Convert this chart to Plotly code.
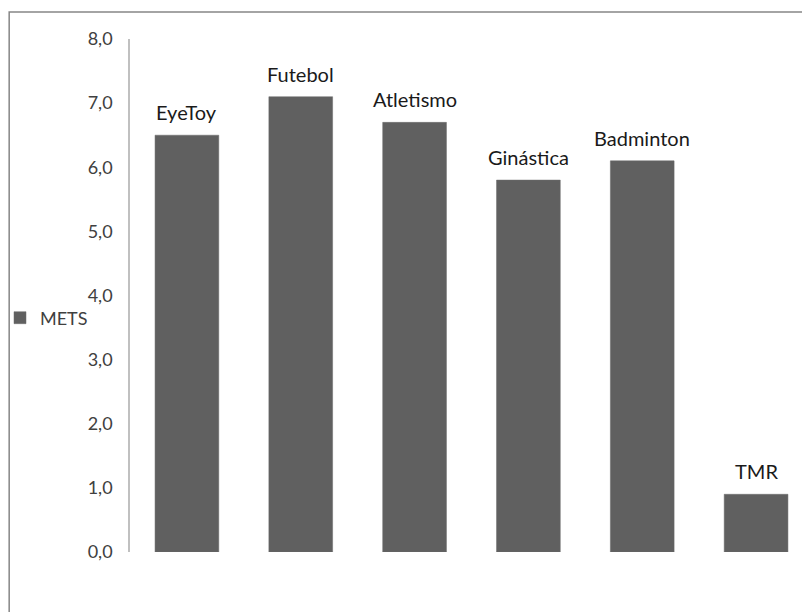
import plotly.graph_objects as go

categories = ["EyeToy", "Futebol", "Atletismo", "Ginástica", "Badminton", "TMR"]
mets = [6.5, 7.1, 6.7, 5.8, 6.1, 0.9]
series_name = "METS"
y_ticks = [0, 1, 2, 3, 4, 5, 6, 7, 8]

W, H = 802, 612
L, R, T, B = 129, 0, 39, 60
pw = W - L - R
ph = H - T - B

fig = go.Figure()
fig.add_trace(go.Bar(
    x=categories, y=mets, name=series_name,
    marker=dict(color="#606060", line=dict(color="#6a6a6a", width=0.5)),
    width=0.56, showlegend=True,
))

for c, v in zip(categories, mets):
    fig.add_annotation(x=c, y=v, text=c, showarrow=False, yanchor="bottom",
                       yshift=9, font=dict(family="Lato", size=20, color="#1a1a1a"))

# outer chart border (extends beyond the window on right/bottom)
fig.add_shape(type="rect", xref="paper", yref="paper",
              x0=(8 - L) / pw, x1=(W + 20 - L) / pw,
              y0=(H - B - (H + 20)) / ph, y1=(H - B - 12) / ph,
              line=dict(color="#868686", width=1.5), fillcolor="rgba(0,0,0,0)", layer="below")

fig.update_layout(
    width=W, height=H,
    margin=dict(l=L, r=R, t=T, b=B, pad=0),
    plot_bgcolor="white", paper_bgcolor="white",
    separators=",.",
    font=dict(family="Lato", size=18, color="#404040"),
    legend=dict(x=(-1 - L) / pw, xanchor="left", y=(H - B - 318) / ph, yanchor="middle",
                font=dict(family="Lato", size=18, color="#404040"),
                bgcolor="rgba(0,0,0,0)", itemwidth=30, tracegroupgap=0),
    xaxis=dict(range=[-0.5, -0.5 + pw / 114.0], showticklabels=False, showline=False,
               showgrid=False, zeroline=False, ticks=""),
    yaxis=dict(range=[0, 8], tickvals=y_ticks, tickformat=".1f", showgrid=False,
               zeroline=False, showline=True, linecolor="#c0c0c0", linewidth=1.5,
               ticks="outside", ticklen=12, tickcolor="rgba(0,0,0,0)",
               tickfont=dict(family="Lato", size=18, color="#404040")),
    bargap=0.44,
)

fig.write_html("out.html")
